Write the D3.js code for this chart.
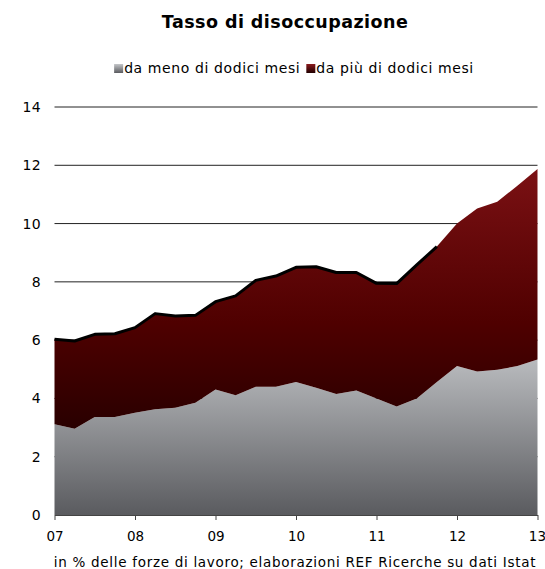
<!DOCTYPE html>
<html><head><meta charset="utf-8">
<script src="https://cdn.jsdelivr.net/npm/d3@7"></script>
<style>
body{margin:0;background:#fff}
text{font-family:"DejaVu Sans",Verdana,sans-serif;fill:#000}
</style>
</head><body>
<svg id="c" width="545" height="569"></svg>
<script>
const quarters = ["2007T1","2007T2","2007T3","2007T4","2008T1","2008T2","2008T3","2008T4",
  "2009T1","2009T2","2009T3","2009T4","2010T1","2010T2","2010T3","2010T4",
  "2011T1","2011T2","2011T3","2011T4","2012T1","2012T2","2012T3","2012T4","2013T1"];
const yearTicks = ["2007T1","2008T1","2009T1","2010T1","2011T1","2012T1","2013T1"];
const yearLabels = ["07","08","09","10","11","12","13"];
const yTicks = [0,2,4,6,8,10,12,14];
const seriesNames = ["da meno di dodici mesi","da più di dodici mesi"];
// da meno di dodici mesi
const meno = [3.11,2.96,3.36,3.36,3.51,3.63,3.68,3.85,4.31,4.11,4.40,4.40,4.56,4.37,4.15,4.27,
  4.00,3.72,4.00,4.56,5.11,4.92,4.98,5.11,5.34];
// da più di dodici mesi
const piu = [2.92,3.01,2.84,2.86,2.92,3.28,3.15,3.00,3.01,3.41,3.65,3.80,3.94,4.15,4.17,4.05,
  3.95,4.22,4.58,4.65,4.89,5.60,5.77,6.19,6.53];
const lineLastQuarter = "2011T4";
const chartTitle = "Tasso di disoccupazione";
const footnote = "in % delle forze di lavoro; elaborazioni REF Ricerche su dati Istat";

const svg = d3.select("#c");
const x = d3.scalePoint().domain(quarters).range([54.5, 537.5]);
const y = d3.scaleLinear().domain([0, 14]).range([515, 107]);

const rows = quarters.map((q, i) => ({q, meno: meno[i], piu: piu[i]}));
const stacked = d3.stack().keys(["meno", "piu"])(rows);

const defs = svg.append("defs");
const gGrey = defs.append("linearGradient").attr("id", "gGrey")
  .attr("gradientUnits", "userSpaceOnUse").attr("x1", 0).attr("x2", 0)
  .attr("y1", y(5.4)).attr("y2", y(0));
gGrey.append("stop").attr("offset", 0).attr("stop-color", "#babcbf");
gGrey.append("stop").attr("offset", 1).attr("stop-color", "#5a5b5f");
const gRed = defs.append("linearGradient").attr("id", "gRed")
  .attr("gradientUnits", "userSpaceOnUse").attr("x1", 0).attr("x2", 0)
  .attr("y1", y(12)).attr("y2", y(0));
gRed.append("stop").attr("offset", 0).attr("stop-color", "#7c1114");
gRed.append("stop").attr("offset", 0.45).attr("stop-color", "#4f0000");
gRed.append("stop").attr("offset", 1).attr("stop-color", "#0a0000");
const lGrey = defs.append("linearGradient").attr("id", "lGrey").attr("x1",0).attr("x2",0).attr("y1",0).attr("y2",1);
lGrey.append("stop").attr("offset",0).attr("stop-color","#c4c6c9");
lGrey.append("stop").attr("offset",1).attr("stop-color","#5a5b5f");
const lRed = defs.append("linearGradient").attr("id", "lRed").attr("x1",0).attr("x2",0).attr("y1",0).attr("y2",1);
lRed.append("stop").attr("offset",0).attr("stop-color","#8a1a1c");
lRed.append("stop").attr("offset",1).attr("stop-color","#200000");

// gridlines
svg.append("g").selectAll("line").data(yTicks.filter(d => d > 0)).join("line")
  .attr("x1", x.range()[0]).attr("x2", x.range()[1])
  .attr("y1", d => y(d)).attr("y2", d => y(d))
  .attr("stroke", "#222").attr("stroke-width", 1);

const area = d3.area().x(d => x(d.data.q)).y0(d => y(d[0])).y1(d => y(d[1]));
const fills = ["url(#gGrey)", "url(#gRed)"];
svg.append("g").selectAll("path").data(stacked).join("path")
  .attr("d", area).attr("fill", (d, i) => fills[i]);

// total line (ends 2011T4)
const lastIdx = quarters.indexOf(lineLastQuarter);
const totalPts = stacked[1].filter((d, i) => i <= lastIdx);
svg.append("path").datum(totalPts)
  .attr("d", d3.line().x(d => x(d.data.q)).y(d => y(d[1])))
  .attr("fill", "none").attr("stroke", "#000").attr("stroke-width", 3)
  .attr("stroke-linejoin", "round");

// x axis
const xa = svg.append("g").attr("transform", `translate(0,${y(0)})`)
  .call(d3.axisBottom(x).tickValues(yearTicks).tickFormat((d, i) => yearLabels[i])
    .tickSize(5).tickSizeOuter(0).tickPadding(11));
xa.select(".domain").attr("stroke", "#444");
xa.selectAll(".tick line").attr("stroke", "#444");
xa.selectAll("text").attr("font-size", 13.5).attr("font-family", '"DejaVu Sans",Verdana,sans-serif')
  .attr("fill", "#000");
xa.selectAll(".tick").filter((d, i) => i === yearTicks.length - 1).select("text")
  .attr("text-anchor", "end").attr("x", 8);

// y labels
svg.append("g").selectAll("text").data(yTicks).join("text")
  .attr("x", 41).attr("y", d => y(d)).attr("dy", "0.36em")
  .attr("text-anchor", "end").attr("font-size", 14).attr("letter-spacing", 0.3).text(d => d);

// title
svg.append("text").attr("x", 285).attr("y", 28).attr("text-anchor", "middle")
  .attr("font-size", 17.5).attr("font-weight", "bold").attr("letter-spacing", 0.45).text(chartTitle);

// legend
const leg = svg.append("g");
const legFills = ["url(#lGrey)", "url(#lRed)"];
let lx = 0;
seriesNames.forEach((n, i) => {
  const g = leg.append("g").attr("transform", `translate(${lx},0)`);
  g.append("rect").attr("x", 0).attr("y", -9).attr("width", 9).attr("height", 9).attr("fill", legFills[i]);
  const t = g.append("text").attr("x", 10).attr("y", 0).attr("font-size", 14)
    .attr("letter-spacing", 0.6).text(n);
  lx += 10 + t.node().getComputedTextLength() + 6;
});
leg.attr("transform", `translate(${294 - (lx - 6) / 2},73)`);

// footnote
svg.append("text").attr("x", 295).attr("y", 567).attr("text-anchor", "middle")
  .attr("font-size", 13.5).attr("letter-spacing", 0.7).text(footnote);
</script>
</body></html>
